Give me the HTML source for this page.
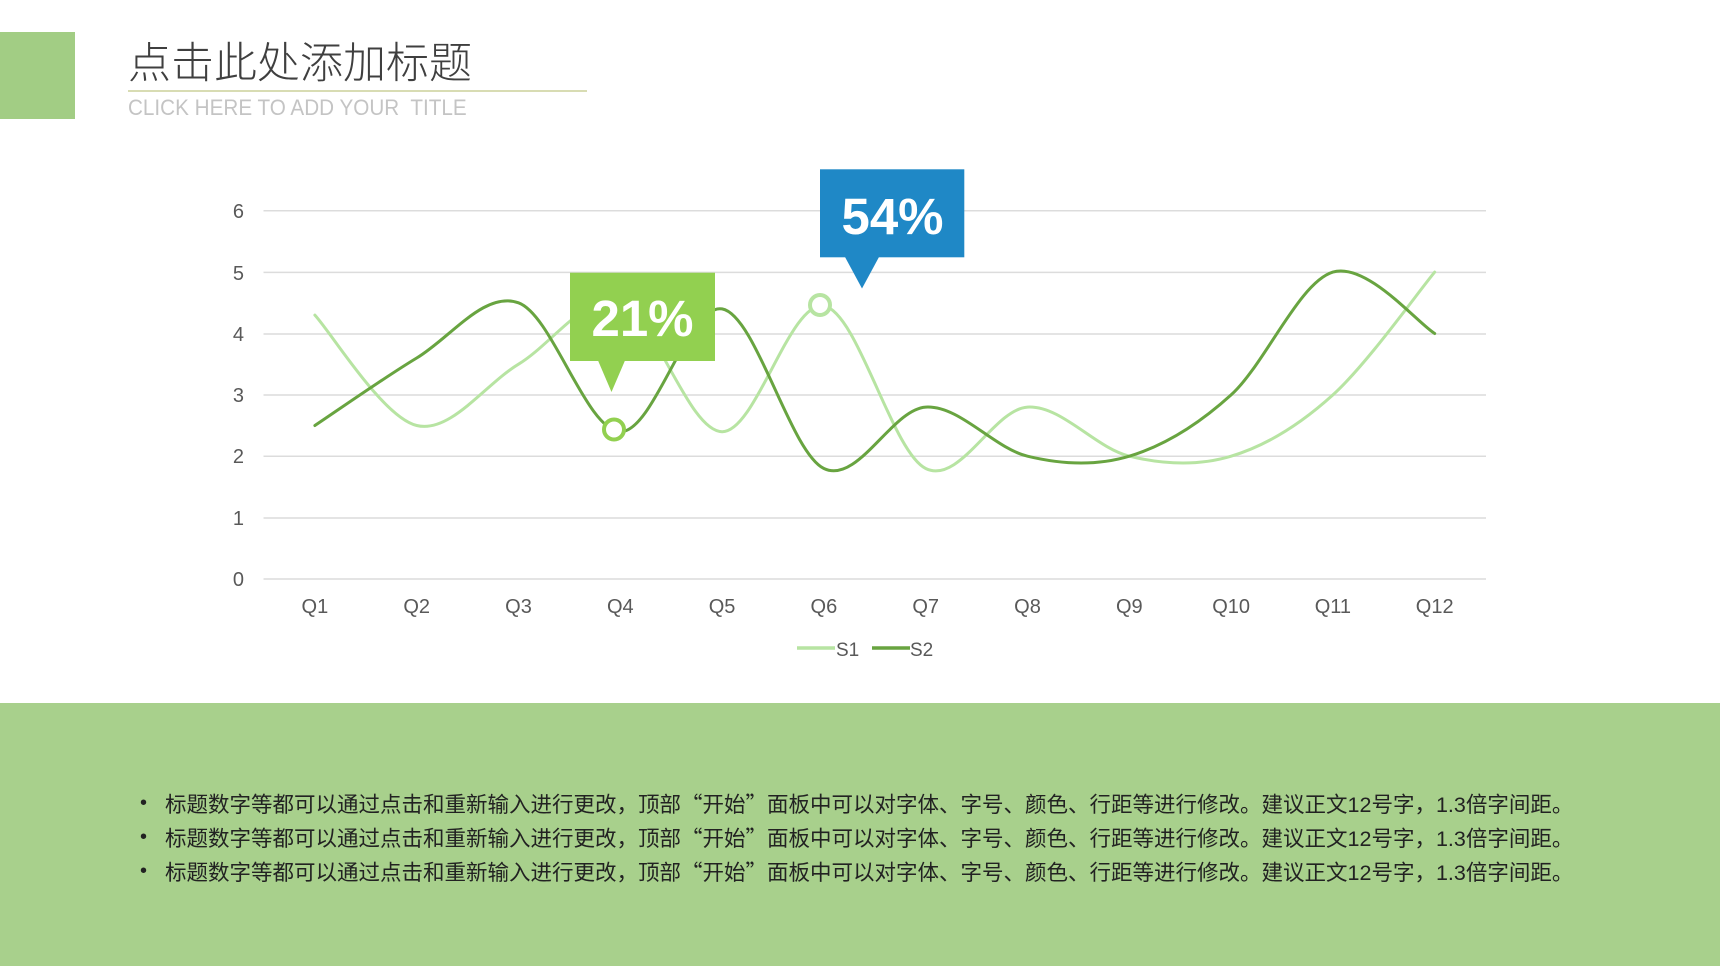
<!DOCTYPE html>
<html>
<head>
<meta charset="utf-8">
<style>
  html, body { margin:0; padding:0; }
  body { width:1720px; height:966px; position:relative; overflow:hidden; background:#ffffff; }
  .sq { position:absolute; left:0; top:32px; width:75px; height:87px; background:#a2cd84; }
  .title { position:absolute; left:128px; top:39px; font-family:"Noto Sans CJK SC", sans-serif; font-weight:300; font-size:43px; line-height:43px; color:#3f3f3f; white-space:nowrap; }
  .uline { position:absolute; left:128px; top:90px; width:459px; height:2px; background:#d8dcb3; }
  .sub { position:absolute; left:128px; top:97px; font-family:"Liberation Sans", sans-serif; font-size:22px; line-height:22px; color:#c4c4c4; white-space:nowrap; transform:scaleX(0.94); transform-origin:left top; }
  .band { position:absolute; left:0; top:703px; width:1720px; height:263px; background:#a8d08c; }
  .line { position:absolute; left:165px; font-family:"Liberation Sans", "Noto Sans CJK SC", sans-serif; font-size:21.5px; line-height:21.5px; color:#222; white-space:nowrap; }
  .line .q { font-family:"Noto Sans CJK SC", sans-serif; }
  .bul { position:absolute; left:140px; font-family:"Liberation Sans", sans-serif; font-size:20px; line-height:20px; color:#222; }
  svg { position:absolute; left:0; top:0; }
</style>
</head>
<body>
<div class="sq"></div>
<div class="title">点击此处添加标题</div>
<div class="uline"></div>
<div class="sub">CLICK HERE TO ADD YOUR&nbsp; TITLE</div>

<svg width="1720" height="966" viewBox="0 0 1720 966" xmlns="http://www.w3.org/2000/svg">
  <g stroke="#dcdcdc" stroke-width="1.5">
    <line x1="263.5" y1="210.7" x2="1486" y2="210.7"/>
    <line x1="263.5" y1="272.4" x2="1486" y2="272.4"/>
    <line x1="263.5" y1="334" x2="1486" y2="334"/>
    <line x1="263.5" y1="395" x2="1486" y2="395"/>
    <line x1="263.5" y1="456.2" x2="1486" y2="456.2"/>
    <line x1="263.5" y1="518" x2="1486" y2="518"/>
    <line x1="263.5" y1="579" x2="1486" y2="579"/>
  </g>
  <g font-family="Liberation Sans, sans-serif" font-size="20" fill="#595959" text-anchor="end">
    <text x="244" y="218">6</text>
    <text x="244" y="280">5</text>
    <text x="244" y="341">4</text>
    <text x="244" y="402">3</text>
    <text x="244" y="463">2</text>
    <text x="244" y="525">1</text>
    <text x="244" y="586">0</text>
  </g>
  <g font-family="Liberation Sans, sans-serif" font-size="20" fill="#595959" text-anchor="middle">
    <text x="314.9" y="613">Q1</text>
    <text x="416.7" y="613">Q2</text>
    <text x="518.5" y="613">Q3</text>
    <text x="620.3" y="613">Q4</text>
    <text x="722.1" y="613">Q5</text>
    <text x="823.9" y="613">Q6</text>
    <text x="925.7" y="613">Q7</text>
    <text x="1027.5" y="613">Q8</text>
    <text x="1129.3" y="613">Q9</text>
    <text x="1231.1" y="613">Q10</text>
    <text x="1332.9" y="613">Q11</text>
    <text x="1434.7" y="613">Q12</text>
  </g>

  <!-- S1 -->
  <path fill="none" stroke="#b7e4a2" stroke-width="3" stroke-linecap="round" stroke-linejoin="round"
    d="M314.9,315.1 C331.9,333.5 382.8,417.3 416.7,425.5 C450.6,433.7 484.6,384.7 518.5,364.2 C552.4,343.8 586.4,291.6 620.3,302.8 C654.2,314.1 688.2,431.2 722.1,431.7 C756.0,432.2 790.0,299.8 823.9,305.9 C857.8,312.0 891.8,451.6 925.7,468.5 C959.6,485.4 993.6,409.2 1027.5,407.1 C1061.4,405.1 1095.4,448.0 1129.3,456.2 C1163.2,464.4 1197.2,466.4 1231.1,456.2 C1265.0,446.0 1299.0,425.6 1332.9,394.9 C1366.8,364.2 1417.7,292.6 1434.7,272.1"/>
  <!-- S2 -->
  <path fill="none" stroke="#68a440" stroke-width="3" stroke-linecap="round" stroke-linejoin="round"
    d="M314.9,425.5 C331.9,414.3 382.8,378.5 416.7,358.0 C450.6,337.6 484.6,290.5 518.5,302.8 C552.4,315.1 586.4,430.7 620.3,431.7 C654.2,432.7 688.2,302.8 722.1,308.9 C756.0,315.0 790.0,452.1 823.9,468.5 C857.8,484.9 891.8,409.2 925.7,407.1 C959.6,405.1 993.6,448.0 1027.5,456.2 C1061.4,464.4 1095.4,466.4 1129.3,456.2 C1163.2,446.0 1197.2,425.6 1231.1,394.9 C1265.0,364.2 1299.0,282.3 1332.9,272.1 C1366.8,261.9 1417.7,323.3 1434.7,333.5"/>

  <!-- markers -->
  <circle cx="614" cy="429.5" r="10" fill="#ffffff" stroke="#92d050" stroke-width="4"/>
  <circle cx="820" cy="305" r="10" fill="#ffffff" stroke="#b7e4a2" stroke-width="4"/>

  <!-- green callout -->
  <rect x="570" y="272.7" width="145" height="88.3" fill="#92d050"/>
  <polygon points="598,360.5 625,360.5 611.5,392" fill="#92d050"/>
  <text x="642.5" y="336" font-family="Liberation Sans, sans-serif" font-weight="bold" font-size="51" fill="#ffffff" text-anchor="middle">21%</text>

  <!-- blue callout -->
  <rect x="820" y="169.3" width="144.3" height="88" fill="#1f88c6"/>
  <polygon points="845,257 879,257 862,288.5" fill="#1f88c6"/>
  <text x="892.5" y="234" font-family="Liberation Sans, sans-serif" font-weight="bold" font-size="51" fill="#ffffff" text-anchor="middle">54%</text>

  <!-- legend -->
  <line x1="797" y1="648" x2="835" y2="648" stroke="#b7e4a2" stroke-width="3.5"/>
  <text x="836" y="656" font-family="Liberation Sans, sans-serif" font-size="19" fill="#595959">S1</text>
  <line x1="872" y1="648" x2="910" y2="648" stroke="#68a440" stroke-width="3.5"/>
  <text x="910" y="656" font-family="Liberation Sans, sans-serif" font-size="19" fill="#595959">S2</text>
</svg>

<div class="band"></div>
<div class="bul" style="top:793px;">•</div>
<div class="bul" style="top:827px;">•</div>
<div class="bul" style="top:861px;">•</div>
<div class="line" style="top:793px;">标题数字等都可以通过点击和重新输入进行更改，顶部<span class="q">“开始”</span>面板中可以对字体、字号、颜色、行距等进行修改。建议正文12号字，1.3倍字间距。</div>
<div class="line" style="top:827px;">标题数字等都可以通过点击和重新输入进行更改，顶部<span class="q">“开始”</span>面板中可以对字体、字号、颜色、行距等进行修改。建议正文12号字，1.3倍字间距。</div>
<div class="line" style="top:861px;">标题数字等都可以通过点击和重新输入进行更改，顶部<span class="q">“开始”</span>面板中可以对字体、字号、颜色、行距等进行修改。建议正文12号字，1.3倍字间距。</div>
</body>
</html>
